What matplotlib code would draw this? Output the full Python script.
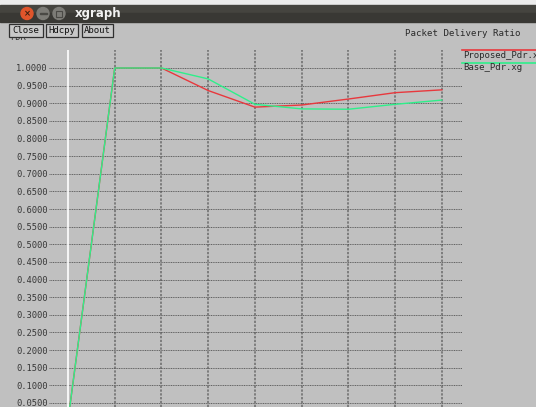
import numpy as np
import matplotlib.pyplot as plt
from matplotlib.patches import Rectangle, Circle

# packet delivery ratio per simulation step
steps = [0, 1, 2, 3, 4, 5, 6, 7, 8]
proposed_pdr = [0.0, 1.0, 1.0, 0.936, 0.889, 0.895, 0.912, 0.930, 0.938]
base_pdr = [0.0, 1.0, 1.0, 0.969, 0.897, 0.884, 0.883, 0.897, 0.909]
series_names = ["Proposed_Pdr.xg", "Base_Pdr.xg"]
y_ticks = [round(0.05 * i, 2) for i in range(1, 21)]

W, H = 536, 407
bg = "#c0c0c0"
mono = "DejaVu Sans Mono"

fig = plt.figure(figsize=(W / 100, H / 100), dpi=100, facecolor=bg)

# window chrome drawn in pixel coordinates
deco = fig.add_axes([0, 0, 1, 1], zorder=0)
deco.set_xlim(0, W)
deco.set_ylim(H, 0)
deco.axis("off")
deco.add_patch(Rectangle((0, 0), W, 5, color="#ececec"))
deco.add_patch(Rectangle((0, 5), W, 9, color="#45443f"))
deco.add_patch(Rectangle((0, 13), W, 9, color="#393834"))
deco.add_patch(Circle((27, 13.5), 6, color="#e0552b"))
deco.text(27, 13.8, "×", color="#3a2010", fontsize=6, ha="center", va="center", fontweight="bold")
deco.add_patch(Circle((43, 13.5), 6, color="#7d7c77"))
deco.add_patch(Rectangle((39.5, 12.8), 7, 1.6, color="#4a4945"))
deco.add_patch(Circle((59, 13.5), 6, color="#7d7c77"))
deco.add_patch(Rectangle((56, 10.5), 6, 6, fill=False, ec="#4a4945", lw=0.8))
deco.text(75, 13.5, "xgraph", color="#f2f2f2", fontsize=8.5, fontweight="bold",
          ha="left", va="center")

# y axis caption, partly covered by the buttons
deco.text(10, 38, "PDR", fontsize=6.2, family=mono, color="#333333", ha="left", va="center")
for label, x0, x1 in [("Close", 9, 43), ("Hdcpy", 46, 78), ("About", 82, 113)]:
    deco.add_patch(Rectangle((x0, 24), x1 - x0, 13, fc="#c8c8c8", ec="#303030", lw=0.9, zorder=3))
    deco.text((x0 + x1) / 2, 30.8, label, fontsize=6.5, family=mono, color="#111111",
              ha="center", va="center", zorder=4)

deco.text(405, 33, "Packet Delivery Ratio", fontsize=6.6, family=mono, color="#2a2a2a",
          ha="left", va="center")

# legend entries on the right
for i, (name, color) in enumerate(zip(series_names, ["#e8383d", "#2ef08a"])):
    y = 50 + 12.5 * i
    deco.plot([462, W], [y, y], color=color, lw=1.2)
    deco.text(463, y + 5, name, fontsize=6.5, family=mono, color="#2a2a2a",
              ha="left", va="center")

# plotting area
ax = fig.add_axes([49 / W, 0, 413 / W, 357 / H], zorder=1)
ax.set_facecolor("none")
for s in ax.spines.values():
    s.set_visible(False)
ax.set_xlim(-0.406, 8.43)
ax.set_ylim(0.0386, 1.051)

ax.set_xticks(steps[1:])
ax.set_yticks(y_ticks)
ax.set_yticklabels(["%.4f" % v for v in y_ticks])
ax.tick_params(axis="y", length=0, pad=1, labelsize=6.3, labelcolor="#363636")
ax.tick_params(axis="x", length=0, labelbottom=False)
for lab in ax.get_yticklabels():
    lab.set_family(mono)

ax.grid(axis="y", color="#3c3c3c", lw=0.5, linestyle=(0, (1.5, 1)))
ax.grid(axis="x", color="#6a6a6a", lw=1.1, linestyle=(0, (1.5, 1)))
ax.set_axisbelow(True)
ax.axvline(0, color="white", lw=1.2, zorder=1.5)

ax.plot(steps, proposed_pdr, color="#e8383d", lw=1.0, zorder=3)
ax.plot(steps, base_pdr, color="#2ef08a", lw=1.0, zorder=4)

fig.savefig("out.png", dpi=100, facecolor=bg)
